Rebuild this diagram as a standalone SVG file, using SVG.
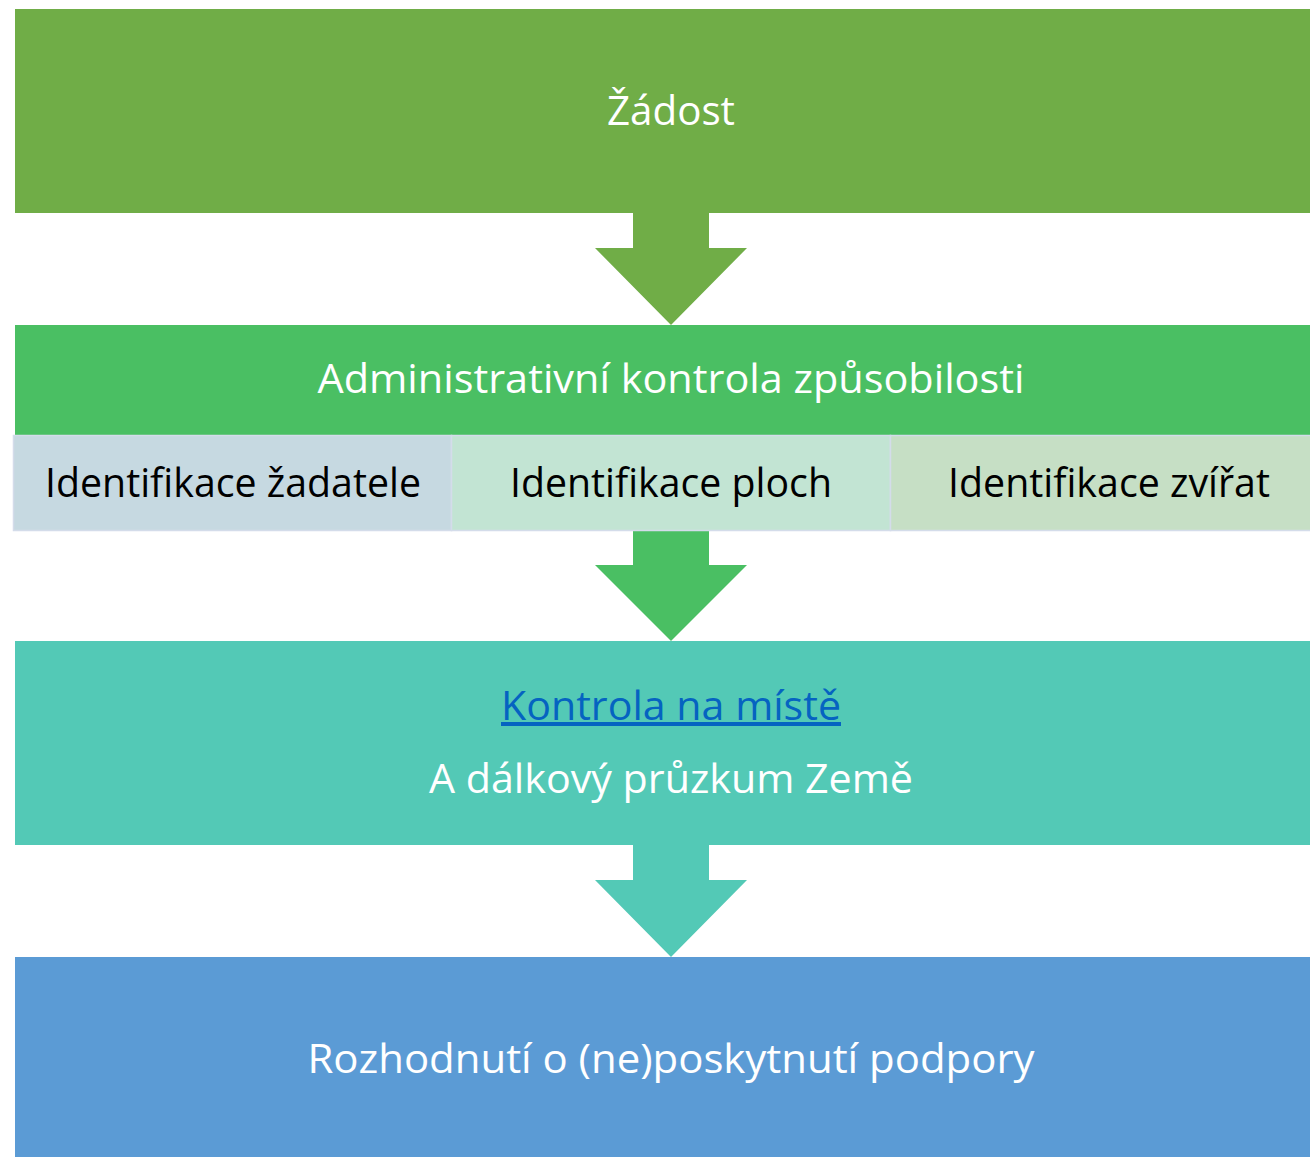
<svg xmlns="http://www.w3.org/2000/svg" width="1310" height="1157" viewBox="0 0 1310 1157">
<style>
  .t { font-family: "Open Sans", "Liberation Sans", sans-serif; font-size: 40px; text-anchor: middle; }
  .w { fill: #ffffff; }
  .k { fill: #000000; }
  .cell { stroke: #d4dcea; stroke-width: 1.5; }
</style>
<rect width="1310" height="1157" fill="#ffffff"/>
<g id="connectors">
  <polygon points="633,212 709,212 709,248 747,248 671,325 595,248 633,248" fill="#70AD47"/>
  <polygon points="633,530 709,530 709,565 747,565 671,641 595,565 633,565" fill="#4ABF63"/>
  <polygon points="633,844 709,844 709,880 747,880 671,957 595,880 633,880" fill="#53C9B6"/>
</g>
<g id="zadost">
  <rect x="15" y="9" width="1295" height="204" fill="#70AD47"/>
  <text class="t w" x="671" y="125" textLength="128" lengthAdjust="spacingAndGlyphs">Žádost</text>
</g>
<g id="admin">
  <rect x="15" y="325" width="1295" height="110" fill="#4ABF63"/>
  <text class="t w" x="671" y="393" textLength="707" lengthAdjust="spacingAndGlyphs">Administrativní kontrola způsobilosti</text>
</g>
<g id="id-zadatele">
  <rect class="cell" x="13.5" y="435.5" width="438" height="95" fill="#C6D9E1"/>
  <text class="t k" x="233" y="497" textLength="376" lengthAdjust="spacingAndGlyphs">Identifikace žadatele</text>
</g>
<g id="id-ploch">
  <rect class="cell" x="451.5" y="435.5" width="439" height="95" fill="#C2E4D3"/>
  <text class="t k" x="671" y="497" textLength="322" lengthAdjust="spacingAndGlyphs">Identifikace ploch</text>
</g>
<g id="id-zvirat">
  <rect class="cell" x="890.5" y="435.5" width="421" height="95" fill="#C6DFC5"/>
  <text class="t k" x="1109" y="497" textLength="322" lengthAdjust="spacingAndGlyphs">Identifikace zvířat</text>
</g>
<g id="kontrola">
  <rect x="15" y="641" width="1295" height="204" fill="#53C9B6"/>
  <text class="t" x="671" y="720" fill="#0563C1" text-decoration="underline" textLength="340" lengthAdjust="spacingAndGlyphs">Kontrola na místě</text>
  <text class="t w" x="671" y="793" textLength="484" lengthAdjust="spacingAndGlyphs">A dálkový průzkum Země</text>
</g>
<g id="rozhodnuti">
  <rect x="15" y="957" width="1295" height="200" fill="#5B9BD5"/>
  <text class="t w" x="671" y="1073" textLength="727" lengthAdjust="spacingAndGlyphs">Rozhodnutí o (ne)poskytnutí podpory</text>
</g>
</svg>
